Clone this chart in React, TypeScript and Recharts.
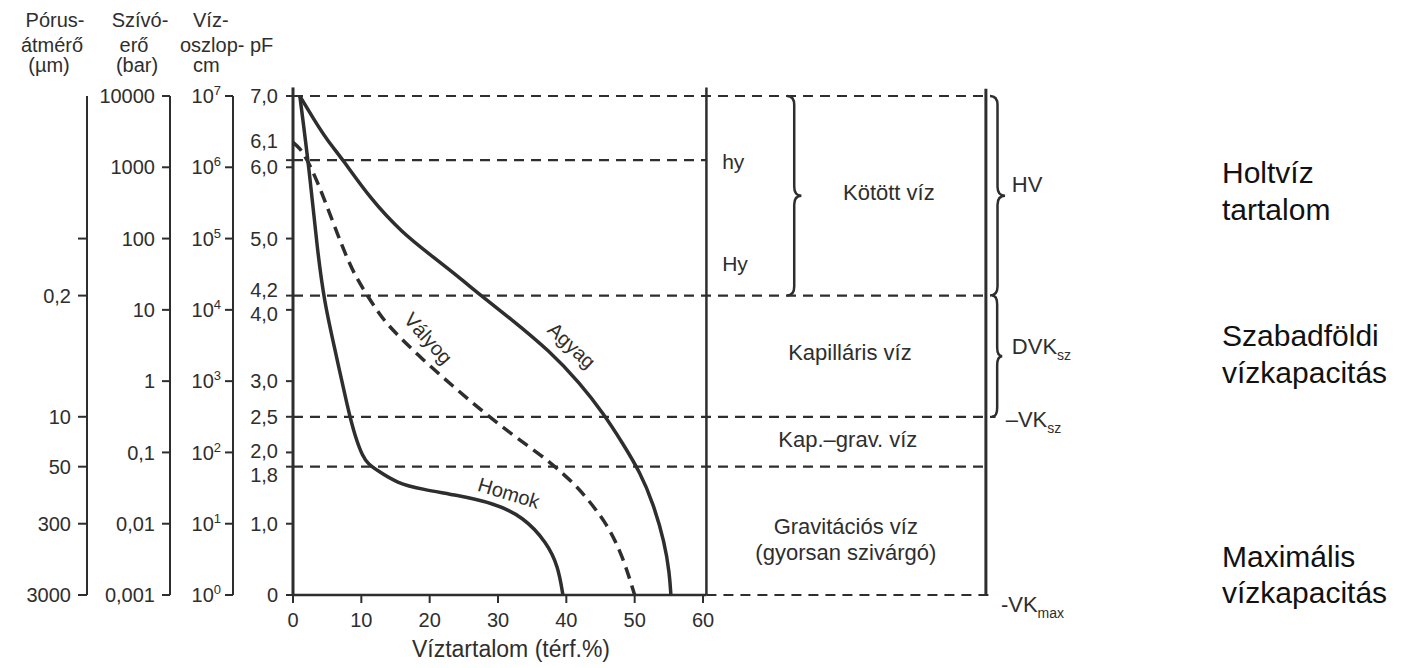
import React from "react";
import {
  LineChart,
  Line,
  XAxis,
  YAxis,
  ReferenceLine,
  ReferenceDot,
  ReferenceArea,
  Customized,
} from "recharts";

const INK = "#2e2e2e";

// Víztartalom (térf.%) vs pF for the three soils
const AGYAG_X = [1, 3, 5, 7.2, 11.3, 16, 20, 24.4, 27, 31.8, 37.6, 42, 45.4, 48.3, 50.8, 52.7, 54.4, 55.1, 55.3];
const AGYAG_PF = [7.0, 6.68, 6.38, 6.12, 5.56, 5.08, 4.78, 4.45, 4.24, 3.88, 3.42, 2.97, 2.55, 2.12, 1.72, 1.29, 0.73, 0.3, 0];

const VALYOG_X = [0, 1, 2, 3.5, 5.9, 8.3, 10.2, 12.7, 14.5, 19, 23.4, 27.8, 32.2, 36.6, 38.6, 41, 42.4, 46, 48.3, 50];
const VALYOG_PF = [6.35, 6.27, 6.12, 5.82, 5.22, 4.62, 4.3, 3.93, 3.72, 3.3, 2.93, 2.57, 2.24, 1.94, 1.78, 1.57, 1.43, 1.0, 0.53, 0];

const HOMOK_X = [1, 2.4, 3.56, 4.6, 6.15, 8.05, 9.1, 10.2, 11, 12.3, 15.2, 19, 24, 29.3, 33.7, 37.2, 38.8, 39.5];
const HOMOK_PF = [7.0, 5.95, 4.84, 4.1, 3.44, 2.6, 2.22, 1.94, 1.84, 1.75, 1.57, 1.48, 1.4, 1.29, 1.1, 0.73, 0.4, 0];

// axes
const X_TICKS = [0, 10, 20, 30, 40, 50, 60];
const PF_TICKS = [0, 1, 1.8, 2, 2.5, 3, 4, 4.2, 5, 6, 6.1, 7];
const PF_LABELS = ["0", "1,0", "1,8", "2,0", "2,5", "3,0", "4,0", "4,2", "5,0", "6,0", "6,1", "7,0"];
const VIZ_TICKS = [0, 1, 2, 3, 4, 5, 6, 7];
const VIZ_EXP = ["0", "1", "2", "3", "4", "5", "6", "7"];
const SZIVO_TICKS = [0, 1, 2, 3, 4, 5, 6, 7];
const SZIVO_LABELS = ["0,001", "0,01", "0,1", "1", "10", "100", "1000", "10000"];
const PORUS_TICKS = [0, 1, 1.8, 2.5, 4.2, 5];
const PORUS_LABELS = ["3000", "300", "50", "10", "0,2", ""];

// pF levels of the horizontal limits
const LIMITS = [
  { y: 7.0, from: 0, to: 101.4 },
  { y: 6.1, from: 0, to: 60.5 },
  { y: 4.2, from: 0, to: 101.4 },
  { y: 2.5, from: 0, to: 102.8 },
  { y: 1.8, from: 0, to: 101.4 },
  { y: 0, from: 60.5, to: 102.6 },
];

const toData = (xs: number[], ps: number[]) => xs.map((x, i) => ({ x, p: ps[i] }));
const agyag = toData(AGYAG_X, AGYAG_PF);
const valyog = toData(VALYOG_X, VALYOG_PF);
const homok = toData(HOMOK_X, HOMOK_PF);

// y axes are stacked leftwards in id order
const PF = "a_pf";

// small label nudges where the printed labels sit off their tick
const PF_SHIFT: Record<string, number> = { "6.1": -19, "4.2": -6, "4": 4, "1.8": 8, "2": -2 };

const pfTick = (props: any) => {
  const { x, y, payload } = props;
  const i = PF_TICKS.indexOf(payload.value);
  const s = PF_SHIFT[String(payload.value)] ?? 0;
  return (
    <text x={x} y={y + s} dy="0.355em" textAnchor="end" fontSize={20} fill={INK}>
      {PF_LABELS[i]}
    </text>
  );
};

const vizTick = (props: any) => {
  const { x, y, payload } = props;
  const i = VIZ_TICKS.indexOf(payload.value);
  return (
    <text x={x} y={y} dy="0.355em" textAnchor="end" fontSize={20} fill={INK}>
      10<tspan dy={-8} fontSize={13}>{VIZ_EXP[i]}</tspan>
    </text>
  );
};

const labelTick = (ticks: number[], labels: string[]) => (props: any) => {
  const { x, y, payload } = props;
  const i = ticks.indexOf(payload.value);
  return (
    <text x={x} y={y} dy="0.355em" textAnchor="end" fontSize={20} fill={INK}>
      {labels[i]}
    </text>
  );
};

const brace = (p: any) => {
  const { x, y, width: w, height: h } = p;
  const m = y + h / 2;
  const mx = x + w / 2;
  const r = Math.min(9, h / 8);
  const d =
    `M${x},${y} Q${mx},${y} ${mx},${y + r} L${mx},${m - r} Q${mx},${m} ${x + w},${m} ` +
    `Q${mx},${m} ${mx},${m + r} L${mx},${y + h - r} Q${mx},${y + h} ${x},${y + h}`;
  return <path d={d} fill="none" stroke={INK} strokeWidth={2.5} />;
};

const BRACES = [
  { x1: 72.3, x2: 74.4, y1: 4.2, y2: 7.0 },
  { x1: 102.0, x2: 104.2, y1: 4.2, y2: 7.0 },
  { x1: 102.3, x2: 103.8, y1: 2.5, y2: 4.2 },
];

type Note = { x: number; y: number; dy?: number; anchor?: string; size?: number; rot?: number; body: React.ReactNode };

const NOTES: Note[] = [
  { x: 62.8, y: 6.1, dy: 9, anchor: "start", size: 21, body: "hy" },
  { x: 62.8, y: 4.2, dy: -25, anchor: "start", size: 21, body: "Hy" },
  { x: 87.2, y: 5.54, body: "Kötött víz" },
  { x: 81.5, y: 3.29, body: "Kapilláris víz" },
  { x: 81.2, y: 2.08, body: "Kap.–grav. víz" },
  { x: 80.9, y: 0.86, body: "Gravitációs víz" },
  { x: 80.9, y: 0.49, body: "(gyorsan szivárgó)" },
  { x: 105.2, y: 5.78, dy: 9, anchor: "start", body: "HV" },
  {
    x: 105.2, y: 3.48, dy: 7, anchor: "start",
    body: <>DVK<tspan dy={6} fontSize={14}>sz</tspan></>,
  },
  {
    x: 104.3, y: 2.5, dy: 10, anchor: "start",
    body: <>–VK<tspan dy={6} fontSize={14}>sz</tspan></>,
  },
  {
    x: 103.6, y: 0, dy: 17, anchor: "start",
    body: <>-VK<tspan dy={6} fontSize={14}>max</tspan></>,
  },
  { x: 31.9, y: 0, dy: 62, size: 23, body: "Víztartalom (térf.%)" },
];

const CURVE_NOTES: Note[] = [
  { x: 19.8, y: 3.6, rot: 48, size: 20, body: "Vályog" },
  { x: 40.8, y: 3.5, rot: 43, size: 20, body: "Agyag" },
  { x: 31.6, y: 1.43, rot: 17, size: 20, body: "Homok" },
];

const HEADERS = [
  { t: "Pórus-", x: 55, y: 27, a: "middle" },
  { t: "átmérő", x: 52, y: 52, a: "middle" },
  { t: "(µm)", x: 49, y: 72, a: "middle" },
  { t: "Szívó-", x: 140, y: 27, a: "middle" },
  { t: "erő", x: 134, y: 52, a: "middle" },
  { t: "(bar)", x: 137, y: 72, a: "middle" },
  { t: "Víz-", x: 193, y: 27, a: "start" },
  { t: "oszlop-", x: 180, y: 52, a: "start" },
  { t: "cm", x: 193, y: 72, a: "start" },
  { t: "pF", x: 250, y: 52, a: "start" },
];

const SIDE_LABELS = [
  { t: "Holtvíz", y: 183 },
  { t: "tartalom", y: 220 },
  { t: "Szabadföldi", y: 346 },
  { t: "vízkapacitás", y: 383 },
  { t: "Maximális", y: 567 },
  { t: "vízkapacitás", y: 603 },
];

const StaticText = () => (
  <g transform="translate(-8,-8)">
    {HEADERS.map((h, i) => (
      <text key={i} x={h.x} y={h.y} textAnchor={h.a as any} fontSize={20} fill={INK}>
        {h.t}
      </text>
    ))}
    {SIDE_LABELS.map((s, i) => (
      <text key={i} x={1222} y={s.y} fontSize={30} fill="#111">
        {s.t}
      </text>
    ))}
  </g>
);

const renderNote = (n: Note, key: string) => (
  <ReferenceDot
    key={key}
    x={n.x}
    y={n.y}
    r={1}
    yAxisId={PF}
    ifOverflow="visible"
    shape={(p: any) =>
      n.rot !== undefined ? (
        <text
          x={p.cx}
          y={p.cy}
          textAnchor="middle"
          dominantBaseline="central"
          fontSize={n.size ?? 22}
          fill={INK}
          transform={`rotate(${n.rot}, ${p.cx}, ${p.cy})`}
        >
          {n.body}
        </text>
      ) : (
        <text
          x={p.cx}
          y={p.cy + (n.dy ?? 0)}
          textAnchor={(n.anchor ?? "middle") as any}
          fontSize={n.size ?? 22}
          fill={INK}
        >
          {n.body}
        </text>
      )
    }
  />
);

const dashed = { stroke: INK, strokeWidth: 2.2, strokeDasharray: "10 7" };

// the three extra scales carry no series of their own, so pin their domain
const sideAxis = {
  type: "number" as const,
  domain: [0, 7],
  allowDataOverflow: true,
  interval: 0 as const,
  axisLine: { stroke: INK, strokeWidth: 2 },
  tickLine: { stroke: INK, strokeWidth: 2 },
};

export default function App() {
  return (
    <div style={{ fontFamily: "'Liberation Sans', Arial, Helvetica, sans-serif" }}>
      <style>{"html,body{overflow:hidden}"}</style>
      <LineChart width={1385} height={660} margin={{ top: 88, right: 403, bottom: 43, left: 0 }}>
        <XAxis
          dataKey="x"
          type="number"
          domain={[0, 102]}
          ticks={X_TICKS}
          interval={0}
          axisLine={false}
          tickSize={8}
          tickMargin={10}
          height={30}
          tick={{ fontSize: 20, fill: INK }}
          tickLine={{ stroke: INK, strokeWidth: 2 }}
        />
        <YAxis
          yAxisId={PF}
          type="number"
          domain={[0, 7]}
          ticks={PF_TICKS}
          interval={0}
          width={60}
          tickSize={7}
          tickMargin={8}
          axisLine={{ stroke: INK, strokeWidth: 3 }}
          tickLine={{ stroke: INK, strokeWidth: 2 }}
          tick={pfTick}
        />
        <YAxis yAxisId="b_viz" {...sideAxis} ticks={VIZ_TICKS} width={63} tickSize={8} tickMargin={4} tick={vizTick} />
        <YAxis
          yAxisId="c_szivo"
          {...sideAxis}
          ticks={SZIVO_TICKS}
          width={83}
          tickSize={8}
          tickMargin={7}
          tick={labelTick(SZIVO_TICKS, SZIVO_LABELS)}
        />
        <YAxis
          yAxisId="d_porus"
          {...sideAxis}
          ticks={PORUS_TICKS}
          width={79}
          tickSize={9}
          tickMargin={7}
          tick={labelTick(PORUS_TICKS, PORUS_LABELS)}
        />

        {LIMITS.map((l, i) => (
          <ReferenceLine
            key={`lim-${i}`}
            yAxisId={PF}
            ifOverflow="visible"
            segment={[{ x: l.from, y: l.y }, { x: l.to, y: l.y }]}
            {...dashed}
          />
        ))}
        <ReferenceLine yAxisId={PF} ifOverflow="visible" segment={[{ x: 0, y: 0 }, { x: 60.5, y: 0 }]} stroke={INK} strokeWidth={2.5} />
        <ReferenceLine yAxisId={PF} ifOverflow="visible" segment={[{ x: 0, y: 7 }, { x: 0, y: 7.12 }]} stroke={INK} strokeWidth={3} />
        <ReferenceLine yAxisId={PF} ifOverflow="visible" segment={[{ x: 60.5, y: 7.12 }, { x: 60.5, y: 0 }]} stroke={INK} strokeWidth={2.5} />
        <ReferenceLine yAxisId={PF} ifOverflow="visible" segment={[{ x: 101.4, y: 7.1 }, { x: 101.4, y: 0 }]} stroke={INK} strokeWidth={3} />

        {BRACES.map((b, i) => (
          <ReferenceArea key={`br-${i}`} yAxisId={PF} ifOverflow="visible" {...b} shape={brace} />
        ))}

        <Line yAxisId={PF} data={agyag} dataKey="p" type="basis" stroke={INK} strokeWidth={3.5} dot={false} isAnimationActive={false} />
        <Line yAxisId={PF} data={valyog} dataKey="p" type="basis" stroke={INK} strokeWidth={3.5} strokeDasharray="12 7" dot={false} isAnimationActive={false} />
        <Line yAxisId={PF} data={homok} dataKey="p" type="basis" stroke={INK} strokeWidth={3.5} dot={false} isAnimationActive={false} />

        {NOTES.map((n, i) => renderNote(n, `n-${i}`))}
        {CURVE_NOTES.map((n, i) => renderNote(n, `c-${i}`))}

        <Customized component={<StaticText />} />
      </LineChart>
    </div>
  );
}
